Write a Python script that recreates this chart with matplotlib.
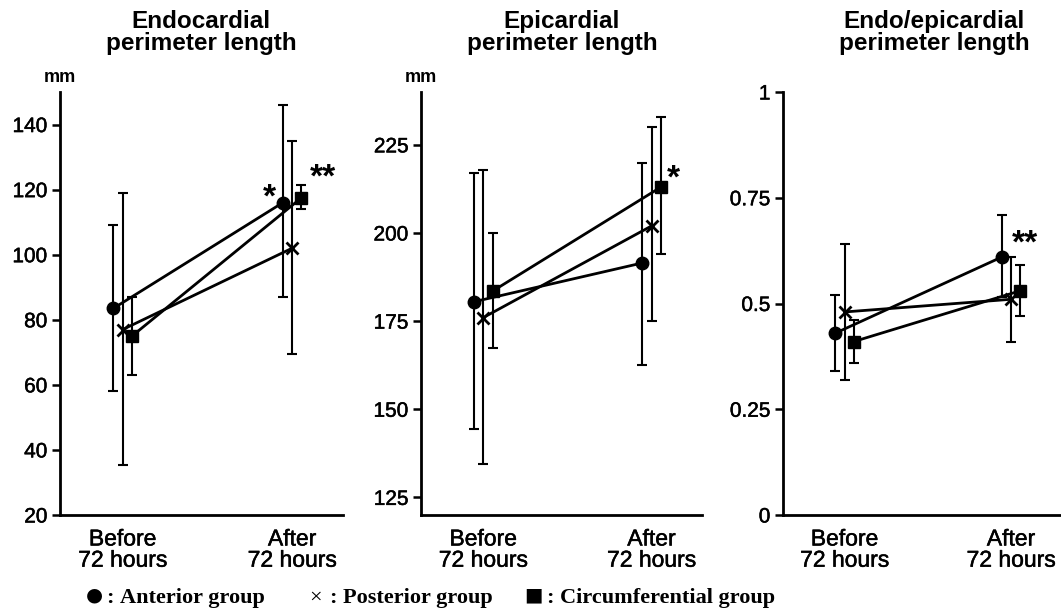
import numpy as np
import matplotlib
matplotlib.use("Agg")
import matplotlib.pyplot as plt
import matplotlib.patheffects as pe

plt.rcParams['font.family'] = ['Liberation Sans', 'DejaVu Sans']

groups = ["Anterior group", "Posterior group", "Circumferential group"]
markers = ["o", "x", "s"]
legend_signs = ["\u25cf", "\u00d7", "\u25a0"]
time_labels = ["Before\n72 hours", "After\n72 hours"]

titles = ["Endocardial\nperimeter length",
          "Epicardial\nperimeter length",
          "Endo/epicardial\nperimeter length"]

# mean values, [before, after] for anterior / posterior / circumferential
endo_mean = [[83.5, 116.0], [77.0, 102.0], [75.0, 117.5]]
endo_low = [[58.0, 87.0], [35.5, 69.5], [63.0, 114.0]]
endo_high = [[109.0, 146.0], [119.0, 135.0], [87.0, 121.5]]

epi_mean = [[180.5, 191.5], [176.0, 202.0], [183.5, 213.0]]
epi_low = [[144.5, 162.5], [134.5, 175.0], [167.5, 194.0]]
epi_high = [[217.0, 220.0], [218.0, 230.0], [200.0, 233.0]]

ratio_mean = [[0.43, 0.61], [0.48, 0.51], [0.41, 0.53]]
ratio_low = [[0.34, 0.515], [0.32, 0.41], [0.36, 0.47]]
ratio_high = [[0.52, 0.71], [0.64, 0.61], [0.46, 0.59]]

ylims = [(20, 150), (120, 240), (0, 1)]
yticks = [[20, 40, 60, 80, 100, 120, 140],
          [125, 150, 175, 200, 225],
          [0, 0.25, 0.5, 0.75, 1]]
ytick_labels = [[str(t) for t in yticks[0]],
                [str(t) for t in yticks[1]],
                ["0", "0.25", "0.5", "0.75", "1"]]
units = ["mm", "mm", None]

# significance marks: (text, x, y)
stars = [[("*", 1.864, 117.4), ("**", 2.183, 123.6)],
         [("*", 2.131, 215.4)],
         [("**", 2.083, 0.641)]]

all_mean = [endo_mean, epi_mean, ratio_mean]
all_low = [endo_low, epi_low, ratio_low]
all_high = [endo_high, epi_high, ratio_high]

offsets = [-0.055, 0.0, 0.055]
xpos = np.array([1, 2])

W, H = 1061, 614
fig = plt.figure(figsize=(W / 100, H / 100), dpi=100)
lefts = [60, 421, 783]
widths = [283, 281, 278]
title_x = [201, 562, 934]

heavy = [pe.withStroke(linewidth=0.35, foreground="black")]

for k in range(3):
    ax = fig.add_axes([lefts[k] / W, (H - 515) / H, widths[k] / W, 423 / H])
    for g in range(3):
        m = np.array(all_mean[k][g])
        lo = m - np.array(all_low[k][g])
        hi = np.array(all_high[k][g]) - m
        x = xpos + offsets[g]
        ax.errorbar(x, m, yerr=[lo, hi], fmt="none", ecolor="black",
                    elinewidth=1.5, capsize=3.5, capthick=1.5, zorder=2)
        ax.plot(x, m, color="black", lw=2.0, zorder=3)
        if markers[g] == "x":
            ax.plot(x, m, ls="none", marker="x", ms=9, mew=2.0,
                    color="black", zorder=4)
        elif markers[g] == "s":
            ax.plot(x, m, ls="none", marker="s", ms=8, color="black", zorder=4)
        else:
            ax.plot(x, m, ls="none", marker="o", ms=9, color="black", zorder=4)
    for txt, sx, sy in stars[k]:
        ax.text(sx, sy, txt, fontsize=24, fontweight="bold",
                ha="center", va="center")
    ax.set_xlim(0.63, 2.30)
    ax.set_ylim(*ylims[k])
    ax.set_yticks(yticks[k])
    ax.set_yticklabels(ytick_labels[k], fontsize=15)
    ax.set_xticks(xpos)
    ax.set_xticklabels(time_labels, fontsize=16.5, linespacing=0.9)
    ax.tick_params(axis="x", length=0, pad=9)
    ax.tick_params(axis="y", length=6, width=1.8, pad=3)
    for lab in ax.get_xticklabels() + ax.get_yticklabels():
        lab.set_path_effects(heavy)
    for s in ["top", "right"]:
        ax.spines[s].set_visible(False)
    ax.spines["left"].set_linewidth(2)
    ax.spines["bottom"].set_linewidth(2)
    fig.text(title_x[k] / W, 1 - 10 / H, titles[k], fontsize=17.5,
             fontweight="bold", linespacing=0.95, ha="center", va="top")
    if units[k]:
        fig.text(lefts[k] / W, 1 - 77 / H, units[k], fontsize=13,
                 fontweight="bold", ha="center", va="center")

# legend row at the bottom: sign, colon, group name
serif = ["Liberation Serif", "DejaVu Serif"]
sign_x = [86, 309, 524]
sign_size = [14, 16, 14]
legend_y = 1 - 598 / H
sign_y = 1 - 595 / H
for g in range(3):
    fig.text(sign_x[g] / W, sign_y if g != 1 else legend_y, legend_signs[g],
             family=["DejaVu Sans"] if g != 1 else serif,
             fontweight="normal", fontsize=sign_size[g],
             ha="left", va="center")
    fig.text((sign_x[g] + 20 if g != 2 else sign_x[g] + 22) / W, legend_y, ":",
             family=serif, fontweight="bold", fontsize=16,
             ha="left", va="center")
    fig.text((sign_x[g] + 34 if g != 2 else sign_x[g] + 36) / W, legend_y,
             groups[g], family=serif, fontweight="bold", fontsize=16,
             ha="left", va="center")

fig.savefig("out.png", dpi=100)
